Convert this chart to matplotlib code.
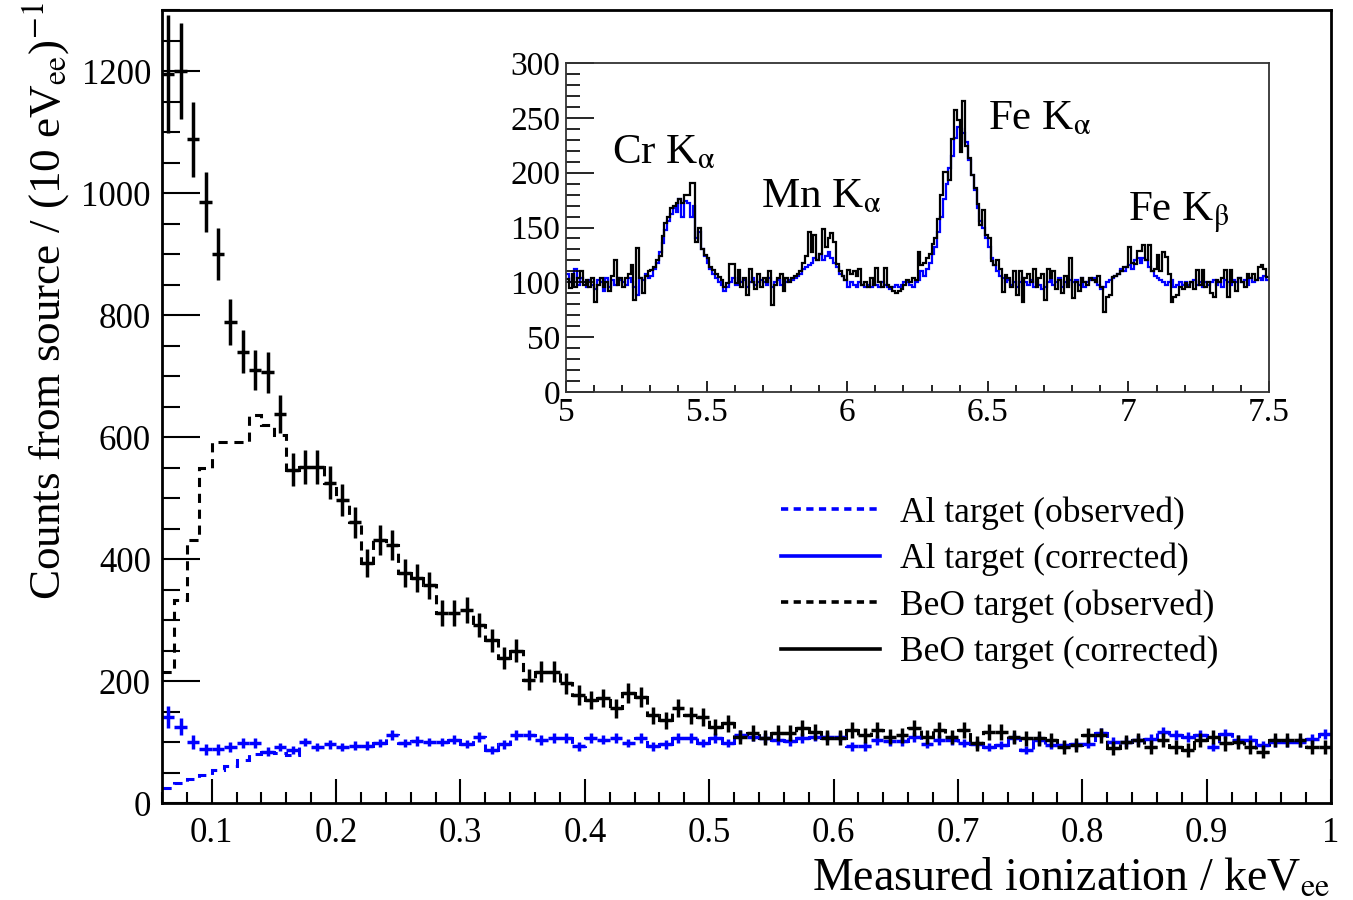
import numpy as np
import matplotlib
matplotlib.use('Agg')
import matplotlib.pyplot as plt
from matplotlib.lines import Line2D
from matplotlib.ticker import MultipleLocator

plt.rcParams['font.family'] = ['Liberation Serif', 'DejaVu Serif']
plt.rcParams['mathtext.fontset'] = 'stix'

# main histogram: 10 eV bins from 0.06 to 1.00 keVee
edges = np.round(np.arange(0.06, 1.0001, 0.01), 3)
centers = edges[:-1] + 0.005

beo_corr = [1195, 1200, 1088, 985, 900, 789, 740, 710, 706, 638,
            546, 551, 551, 525, 497, 460, 393, 431, 423, 377,
            369, 357, 311, 311, 316, 292, 267, 238, 250, 202,
            215, 215, 196, 177, 169, 172, 155, 180, 174, 144,
            136, 156, 144, 141, 125, 131, 108, 115, 107, 115,
            115, 123, 117, 107, 107, 120, 111, 120, 109, 111,
            123, 108, 120, 108, 120, 98, 117, 117, 108, 106,
            106, 103, 92, 95, 111, 111, 90, 100, 103, 92,
            103, 92, 87, 103, 108, 98, 100, 92, 84, 103,
            103, 103, 92, 92]
beo_err = [97, 79, 61, 49, 43, 38, 35, 33, 34, 31,
           27, 28, 28, 27, 26, 25, 23, 24, 24, 23,
           23, 22, 21, 21, 21, 20, 19, 18, 19, 17,
           17, 17, 17, 16, 15, 15, 15, 16, 16, 14,
           14, 15, 14, 14, 13, 14, 12, 13, 12, 13,
           13, 13, 13, 12, 12, 13, 12, 13, 12, 12,
           13, 12, 13, 12, 13, 12, 13, 13, 12, 12,
           12, 12, 11, 12, 12, 12, 11, 12, 12, 11,
           12, 11, 11, 12, 12, 12, 12, 11, 11, 12,
           12, 12, 11, 11]
# observed only differs from corrected at the lowest energies
beo_obs_low = [215, 333, 431, 549, 592, 592, 592, 636, 620, 603]
beo_obs = beo_obs_low + beo_corr[len(beo_obs_low):]

al_corr = [141, 125, 100, 88, 88, 92, 98, 98, 84, 92,
           87, 100, 92, 96, 92, 94, 94, 98, 111, 98,
           102, 100, 100, 104, 97, 108, 87, 96, 111, 111,
           103, 107, 106, 93, 107, 104, 107, 98, 107, 93,
           96, 107, 107, 98, 107, 98, 111, 109, 106, 103,
           101, 107, 109, 109, 109, 93, 93, 103, 101, 101,
           108, 97, 103, 103, 98, 97, 92, 95, 106, 87,
           103, 95, 95, 96, 97, 115, 100, 100, 103, 105,
           117, 111, 108, 111, 92, 113, 103, 103, 95, 100,
           100, 100, 105, 113]
al_err = [18, 14, 11, 9, 9, 8, 8, 8, 7, 7,
          7, 7, 7, 7, 7, 7, 7, 7, 8, 7,
          8, 7, 7, 8, 7, 8, 7, 7, 8, 8,
          8, 8, 8, 7, 8, 8, 8, 7, 8, 7,
          7, 8, 8, 7, 8, 7, 8, 8, 8, 8,
          8, 8, 8, 8, 8, 7, 7, 8, 8, 8,
          8, 7, 8, 8, 7, 7, 7, 7, 8, 7,
          8, 7, 7, 7, 7, 8, 8, 8, 8, 8,
          8, 8, 8, 8, 7, 8, 8, 8, 7, 8,
          8, 8, 8, 8]
al_obs_low = [25, 32, 39, 46, 54, 61, 70, 80, 84, 82, 78]
al_obs = al_obs_low + al_corr[len(al_obs_low):]

# inset: 10 eV bins from 5.0 to 7.5 keVee
inset_edges = np.round(np.arange(5.0, 7.5001, 0.01), 3)
inset_beo = [103, 95, 108, 96, 104, 110, 98, 102, 96, 104,
             82, 98, 104, 96, 100, 92, 106, 120, 98, 104,
             96, 104, 108, 116, 84, 131, 104, 90, 106, 110,
             111, 114, 120, 124, 142, 154, 160, 168, 170, 172,
             176, 172, 180, 180, 191, 191, 137, 150, 130, 125,
             122, 114, 111, 108, 105, 102, 96, 99, 117, 117,
             99, 111, 96, 104, 88, 112, 100, 94, 108, 96,
             104, 100, 110, 79, 98, 104, 108, 92, 104, 100,
             104, 106, 108, 110, 118, 124, 146, 128, 143, 120,
             126, 149, 132, 140, 145, 137, 117, 110, 106, 102,
             111, 108, 110, 106, 112, 98, 100, 96, 104, 98,
             113, 100, 96, 113, 98, 96, 92, 90, 92, 94,
             98, 102, 100, 104, 102, 128, 116, 118, 122, 126,
             135, 140, 158, 180, 201, 201, 193, 231, 257, 248,
             219, 265, 224, 213, 198, 186, 171, 152, 166, 143,
             140, 119, 116, 120, 112, 91, 107, 104, 96, 110,
             88, 110, 82, 104, 108, 100, 112, 96, 104, 108,
             84, 112, 104, 110, 94, 102, 90, 106, 96, 122,
             86, 100, 92, 104, 100, 98, 104, 102, 100, 106,
             96, 73, 87, 88, 105, 106, 108, 110, 114, 114,
             132, 118, 117, 129, 129, 134, 120, 134, 110, 112,
             125, 110, 128, 123, 108, 82, 87, 88, 96, 94,
             99, 96, 100, 94, 111, 98, 111, 96, 100, 90,
             87, 102, 100, 104, 111, 87, 111, 100, 92, 104,
             100, 96, 108, 104, 108, 102, 114, 116, 112, 105]
inset_al = [108, 100, 104, 112, 98, 104, 100, 96, 102, 98,
            94, 102, 100, 92, 104, 96, 102, 98, 104, 102,
            100, 98, 104, 100, 96, 88, 104, 102, 108, 104,
            106, 112, 118, 128, 136, 148, 156, 162, 168, 164,
            176, 160, 174, 172, 160, 170, 140, 146, 130, 124,
            118, 112, 108, 104, 100, 98, 92, 96, 100, 104,
            98, 104, 100, 102, 96, 100, 104, 98, 100, 102,
            100, 98, 104, 96, 100, 102, 98, 102, 100, 102,
            102, 104, 106, 108, 112, 114, 116, 118, 122, 120,
            126, 120, 124, 128, 122, 118, 114, 108, 106, 102,
            96, 100, 98, 96, 100, 98, 96, 98, 96, 100,
            98, 96, 100, 98, 96, 94, 96, 98, 96, 98,
            100, 100, 98, 96, 100, 102, 110, 106, 112, 118,
            126, 132, 146, 160, 176, 190, 204, 215, 232, 242,
            240, 236, 228, 212, 198, 184, 168, 156, 150, 140,
            132, 122, 116, 110, 106, 104, 100, 102, 98, 100,
            96, 100, 104, 100, 98, 102, 96, 100, 98, 94,
            96, 100, 102, 98, 100, 104, 96, 100, 98, 102,
            100, 102, 98, 104, 96, 100, 102, 104, 100, 98,
            94, 96, 100, 102, 104, 106, 108, 112, 110, 114,
            116, 112, 120, 122, 118, 122, 120, 114, 110, 106,
            104, 102, 100, 98, 100, 102, 96, 98, 100, 98,
            100, 98, 100, 102, 98, 100, 96, 100, 98, 100,
            102, 98, 100, 96, 102, 100, 98, 102, 100, 104,
            100, 102, 98, 104, 100, 102, 104, 102, 106, 102]

peak_labels = [(5.162, 218, r'Cr K$_{\mathrm{\alpha}}$'), (5.695, 178, r'Mn K$_{\mathrm{\alpha}}$'),
               (6.50, 249, r'Fe K$_{\mathrm{\alpha}}$'), (7.0, 163, r'Fe K$_{\mathrm{\beta}}$')]

fig = plt.figure(figsize=(13.53, 9.0), dpi=100)
ax = fig.add_axes([162 / 1353, 97 / 900, 1169 / 1353, 793 / 900])

dash = (0, (3, 2.2))
ax.stairs(al_obs, edges, baseline=None, color='blue', lw=2.2, linestyle=dash)
ax.stairs(beo_obs, edges, baseline=None, color='black', lw=2.2, linestyle=dash)
ax.errorbar(centers, al_corr, xerr=0.005, yerr=al_err, fmt='none',
            ecolor='blue', elinewidth=2.5, capsize=0)
ax.errorbar(centers, beo_corr, xerr=0.005, yerr=beo_err, fmt='none',
            ecolor='black', elinewidth=2.5, capsize=0)

ax.set_xlim(0.06, 1.0)
ax.set_ylim(0, 1300)
ax.xaxis.set_major_locator(MultipleLocator(0.1))
ax.xaxis.set_minor_locator(MultipleLocator(0.02))
ax.yaxis.set_major_locator(MultipleLocator(200))
ax.yaxis.set_minor_locator(MultipleLocator(50))
ax.set_xticks(np.arange(0.1, 1.01, 0.1))
ax.set_xticklabels(['0.1', '0.2', '0.3', '0.4', '0.5', '0.6', '0.7', '0.8', '0.9', '1'])
ax.tick_params(axis='both', which='both', direction='in', labelsize=25, top=False, right=False)
ax.tick_params(axis='y', which='major', length=27, width=1.5, pad=8)
ax.tick_params(axis='y', which='minor', length=13, width=1.5)
ax.tick_params(axis='x', which='major', length=17, width=1.5, pad=10)
ax.tick_params(axis='x', which='minor', length=8, width=1.5)
for s in ax.spines.values():
    s.set_linewidth(2)

fig.text(1330 / 1353, 10 / 900, r'Measured ionization / keV$_{\mathrm{ee}}$',
         ha='right', va='baseline', fontsize=33)
fig.text(46 / 1353, 0.997, r'Counts from source / (10 eV$_{\mathrm{ee}}$)$^{-1}$',
         ha='center', va='top', rotation=90, fontsize=32.5)

handles = [Line2D([], [], color='blue', lw=2.6, linestyle=(0, (2, 1.5))),
           Line2D([], [], color='blue', lw=2.6),
           Line2D([], [], color='black', lw=2.6, linestyle=(0, (2, 1.5))),
           Line2D([], [], color='black', lw=2.6)]
names = ['Al target (observed)', 'Al target (corrected)',
         'BeO target (observed)', 'BeO target (corrected)']
fig.legend(handles, names, loc='upper left', bbox_to_anchor=(781 / 1353, 1 - 496 / 900),
           frameon=False, fontsize=25.5, handlelength=2.8, handletextpad=0.55,
           labelspacing=0.37, borderpad=0, borderaxespad=0)

# inset with the x-ray lines
ins = fig.add_axes([566 / 1353, 508 / 900, 703 / 1353, 329 / 900])
ins.stairs(inset_al, inset_edges, baseline=None, color='blue', lw=1.6)
ins.stairs(inset_beo, inset_edges, baseline=None, color='black', lw=1.6)
ins.set_xlim(5, 7.5)
ins.set_ylim(0, 300)
ins.xaxis.set_major_locator(MultipleLocator(0.5))
ins.xaxis.set_minor_locator(MultipleLocator(0.1))
ins.yaxis.set_major_locator(MultipleLocator(50))
ins.yaxis.set_minor_locator(MultipleLocator(10))
ins.set_xticks([5, 5.5, 6, 6.5, 7, 7.5])
ins.set_xticklabels(['5', '5.5', '6', '6.5', '7', '7.5'])
ins.tick_params(axis='both', which='both', direction='in', labelsize=24, top=False, right=False)
ins.tick_params(axis='y', which='major', length=20, width=1.2, pad=4)
ins.tick_params(axis='y', which='minor', length=10, width=1.2)
ins.tick_params(axis='x', which='major', length=8, width=1.2, pad=4)
ins.tick_params(axis='x', which='minor', length=5, width=1.2)
for s in ins.spines.values():
    s.set_linewidth(1.3)
    s.set_color('#333333')
for x, y, t in peak_labels:
    ins.text(x, y, t, fontsize=31, ha='left', va='center')

plt.savefig('out.png', dpi=100)
